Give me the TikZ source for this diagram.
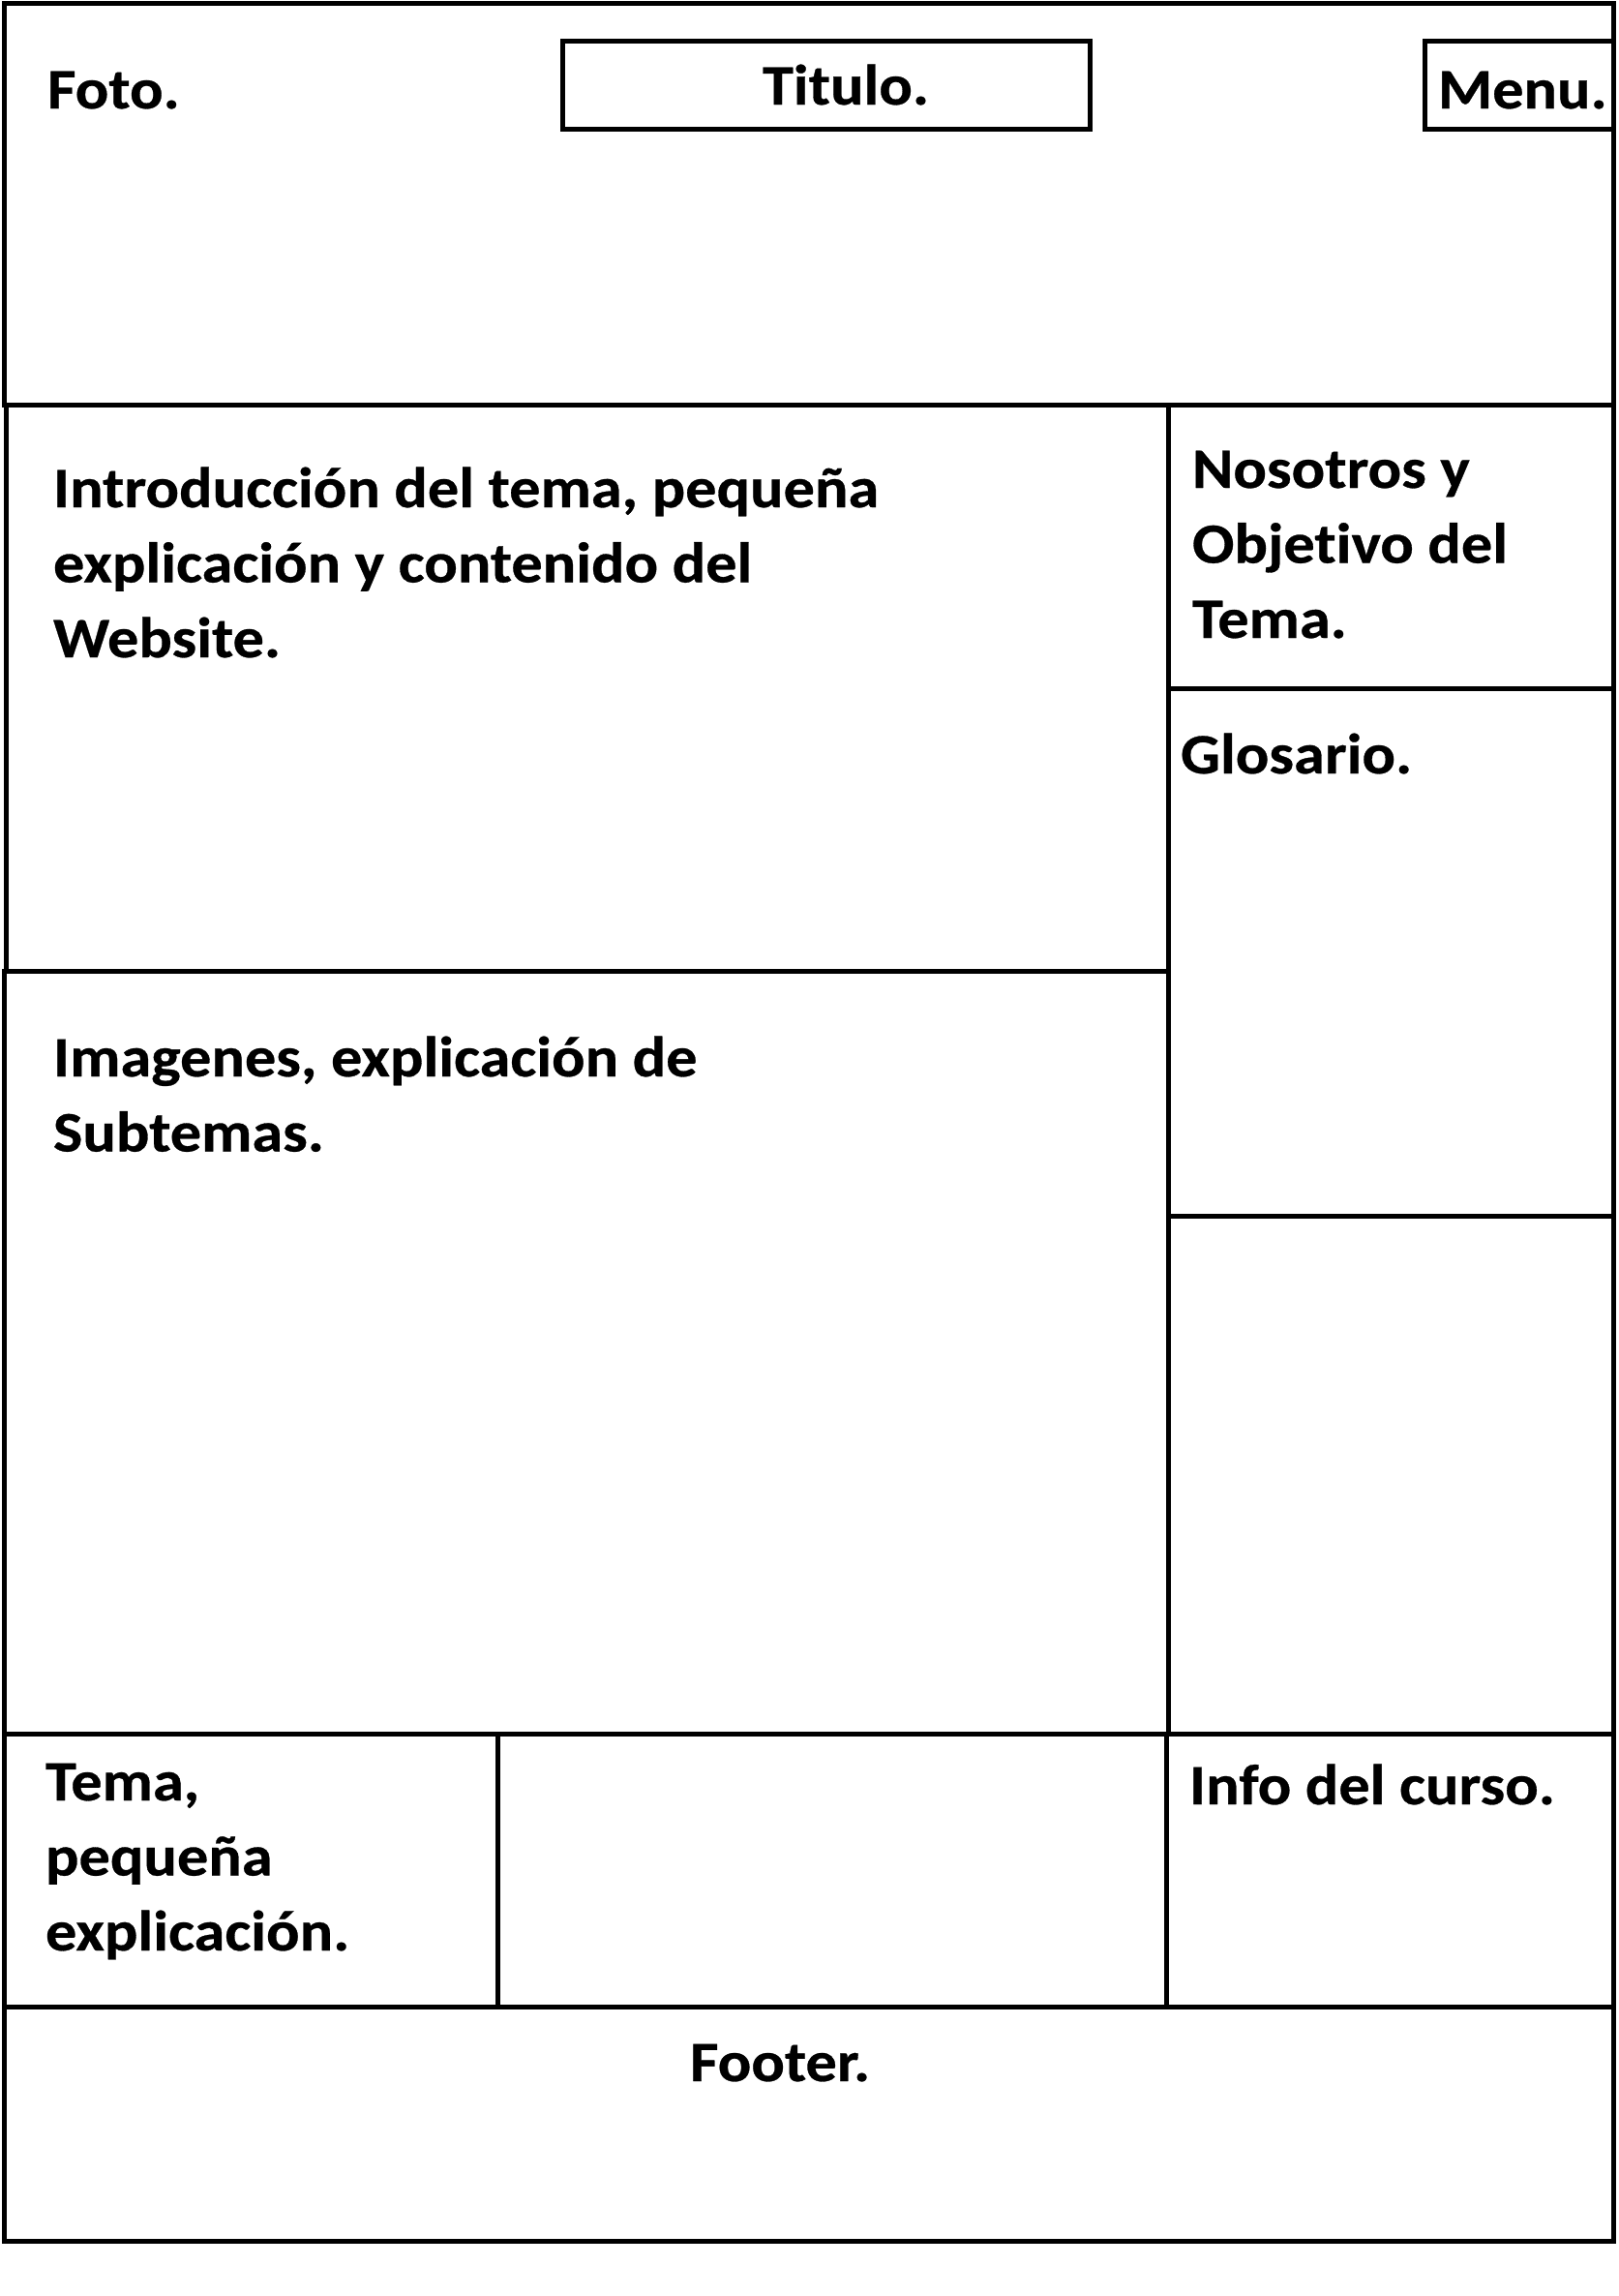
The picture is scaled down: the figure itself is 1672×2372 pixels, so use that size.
\documentclass[tikz,border=0pt]{standalone}
\usepackage{fontspec}
\setmainfont{Carlito}[FakeStretch=1.09,RawFeature=-liga,BoldFeatures={FakeBold=0.5}]
\newcommand\stk[1]{\vtop{\baselineskip=38.75pt\lineskiplimit=-100pt #1}}
\begin{document}
\begin{tikzpicture}[x=0.5pt,y=-0.5pt,line width=2.5pt,
  box/.style={draw=black},
  lbl/.style={anchor=base west,inner sep=0pt,outer sep=0pt,
    font=\fontsize{29.5pt}{38.75pt}\selectfont\bfseries}]
\useasboundingbox[fill=white] (0,0) rectangle (1672,2372);
% frames
\draw[box] (4,3) rectangle (1667,418);
\draw[box] (581,42) rectangle (1126,133);
\draw[box] (1472,42) rectangle (1667,133);
\draw[box] (6,418) rectangle (1207,1003);
\draw[box] (4,1003) rectangle (1207,1791);
\draw[box] (1207,418) rectangle (1667,711);
\draw[box] (1207,711) rectangle (1667,1256);
\draw[box] (1207,1256) rectangle (1667,1791);
\draw[box] (4,1791) rectangle (514,2073);
\draw[box] (514,1791) rectangle (1205,2073);
\draw[box] (1205,1791) rectangle (1667,2073);
\draw[box] (4,2073) rectangle (1667,2315);
% texts
\node[lbl] (foto) at (49,112) {Foto.};
\node[lbl] (titulo) at (788,108) {Titulo.};
\node[lbl] (menu) at (1486,112) {Menu.};
\node[lbl] (intro) at (55,524) {\stk{\hbox{Introducción del tema, pequeña}\hbox{explicación y contenido del}\hbox{Website.}}};
\node[lbl] (nosotros) at (1232,504) {\stk{\hbox{Nosotros y}\hbox{Objetivo del}\hbox{Tema.}}};
\node[lbl] (glosario) at (1220,799) {Glosario.};
\node[lbl] (imagenes) at (55,1112) {\stk{\hbox{Imagenes, explicación de}\hbox{Subtemas.}}};
\node[lbl] (tema) at (47,1860) {\stk{\hbox{Tema,}\hbox{pequeña}\hbox{explicación.}}};
\node[lbl] (info) at (1229,1864) {Info del curso.};
\node[lbl] (footer) at (713,2150) {Footer.};
\end{tikzpicture}
\end{document}
